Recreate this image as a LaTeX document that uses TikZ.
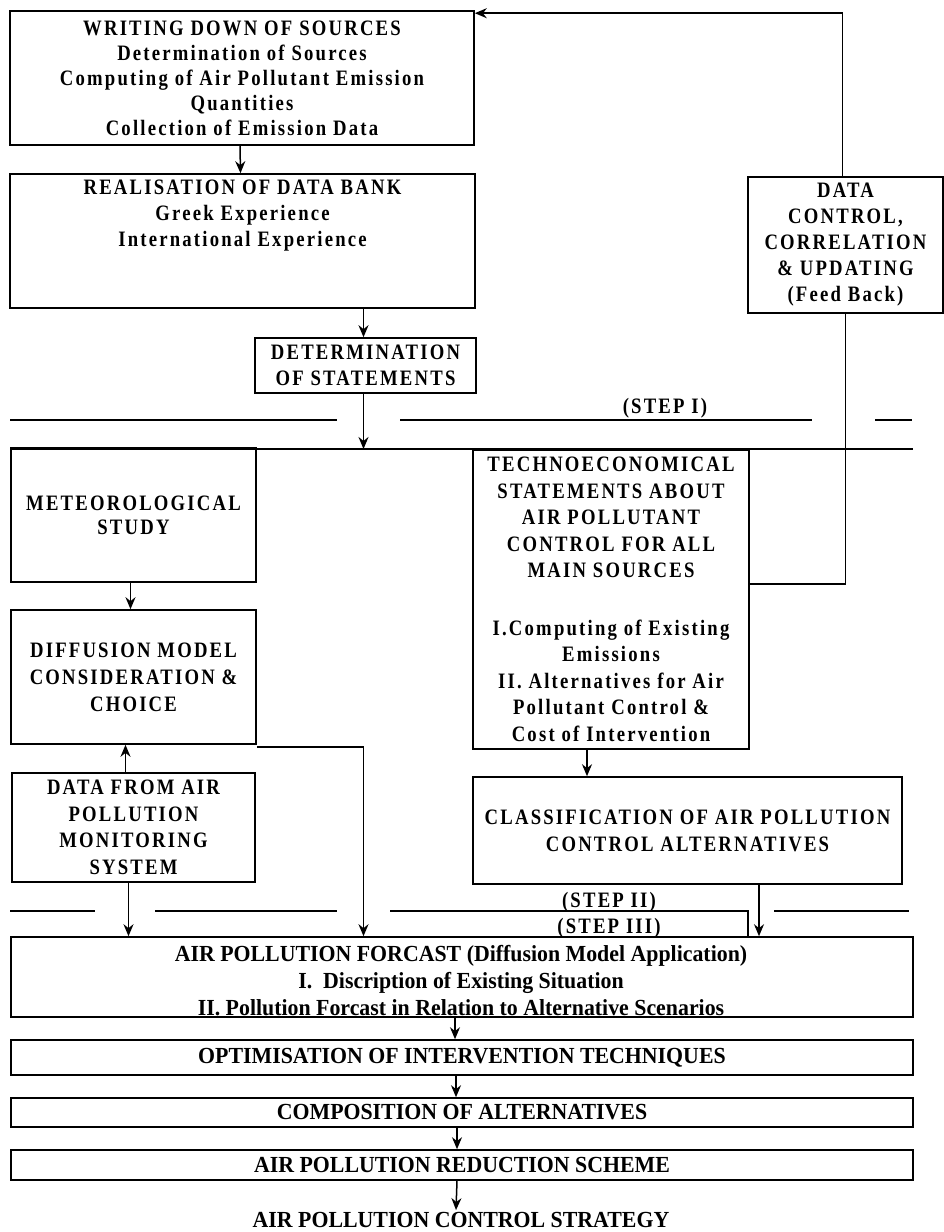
\documentclass[tikz,border=0pt]{standalone}
\usepackage{fontspec}
\setmainfont{Liberation Serif}
\newfontfamily\upfont[LetterSpace=10,FakeStretch=0.85]{Liberation Serif}
\newfontfamily\lowfont[FakeStretch=0.95]{Liberation Serif}
\usetikzlibrary{arrows.meta}
\begin{document}
\begin{tikzpicture}[x=1pt,y=-1pt,
  box/.style={draw,line width=1.6pt,inner sep=0pt,align=center},
  up/.style={font=\upfont\bfseries\fontsize{22}{26}\selectfont},
  low/.style={font=\lowfont\bfseries\fontsize{23}{27}\selectfont},
  txt/.style={inner sep=0pt,align=center},
  arr/.style={line width=1.5pt,-{Stealth[length=12pt,width=10pt]}},
  fb/.style={line width=1.6pt},
  stepline/.style={line width=2pt}]
\useasboundingbox (0,0) rectangle (944,1232);

% boxes
\node[box,up,font=\upfont\bfseries\fontsize{22}{25}\selectfont,minimum width=464pt,minimum height=134pt] (wds) at (242,78)
  {WRITING DOWN OF SOURCES\\Determination of Sources\\Computing of Air Pollutant Emission\\Quantities\\Collection of Emission Data};
\node[box,minimum width=465pt,minimum height=134pt] (rdb) at (242.5,241) {};
\node[txt,up] (rdbt) at (242.5,216) {REALISATION OF DATA BANK\\Greek Experience\\International Experience};
\node[box,up,minimum width=221pt,minimum height=55pt] (dos) at (365.5,365.5) {DETERMINATION\\OF STATEMENTS};
\node[box,up,minimum width=195pt,minimum height=136pt] (dcc) at (845.5,245) {DATA\\CONTROL,\\CORRELATION\\\& UPDATING\\(Feed Back)};
\node[box,up,font=\upfont\bfseries\fontsize{22}{24}\selectfont,minimum width=245pt,minimum height=134pt] (met) at (133.5,515) {METEOROLOGICAL\\STUDY};
\node[box,up,font=\upfont\bfseries\fontsize{22}{27}\selectfont,minimum width=245pt,minimum height=134pt] (dmc) at (133.5,677) {DIFFUSION MODEL\\CONSIDERATION \&\\CHOICE};
\node[box,up,font=\upfont\bfseries\fontsize{22}{26.5}\selectfont,minimum width=243pt,minimum height=109pt] (dfa) at (133.5,827.5) {DATA FROM AIR\\POLLUTION\\MONITORING\\SYSTEM};
\node[box,up,font=\upfont\bfseries\fontsize{22}{26.5}\selectfont,minimum width=276pt,minimum height=299pt] (tec) at (611,599.5)
  {TECHNOECONOMICAL\\STATEMENTS ABOUT\\AIR POLLUTANT\\CONTROL FOR ALL\\MAIN SOURCES\\[31pt]I.Computing of Existing\\Emissions\\II. Alternatives for Air\\Pollutant Control \&\\Cost of Intervention};
\node[box,up,font=\upfont\bfseries\fontsize{22}{27}\selectfont,minimum width=429pt,minimum height=107pt] (cla) at (687.5,830.5) {CLASSIFICATION OF AIR POLLUTION\\CONTROL ALTERNATIVES};
\node[box,minimum width=902pt,minimum height=80pt] (apf) at (462,977) {};
\node[txt,low] (apft) at (461,981) {AIR POLLUTION FORCAST (Diffusion Model Application)\\I.\ \ Discription of Existing Situation\\II. Pollution Forcast in Relation to Alternative Scenarios};
\node[box,low,minimum width=902pt,minimum height=35pt] (oit) at (462,1057.5) {OPTIMISATION OF INTERVENTION TECHNIQUES};
\node[box,low,minimum width=902pt,minimum height=29pt] (coa) at (462,1112.5) {COMPOSITION OF ALTERNATIVES};
\node[box,low,minimum width=902pt,minimum height=30pt] (aprs) at (462,1165) {AIR POLLUTION REDUCTION SCHEME};
\node[txt,low] (fin) at (461,1220) {AIR POLLUTION CONTROL STRATEGY};

% step labels
\node[txt,up] (s1) at (665,408) {(STEP I)};
\node[txt,up] (s2) at (609,902) {(STEP II)};
\node[txt,up] (s3) at (609,928) {(STEP III)};

% step lines
\draw[stepline] (10,419.5) -- (337,419.5);
\draw[stepline] (400,419.5) -- (812,419.5);
\draw[stepline] (875,419.5) -- (912,419.5);
\draw[stepline] (10,449) -- (913,449);
\draw[stepline] (10,911) -- (95,911);
\draw[stepline] (155,911) -- (337,911);
\draw[fb] (390,911) -- (748,911) -- (748,937);
\draw[stepline] (774,911) -- (909,911);

% arrows
\draw[arr] ([xshift=-2pt]wds.south) -- ([xshift=-2pt]rdb.north);
\draw[arr] ([xshift=-2pt]dos.north |- rdb.south) -- ([xshift=-2pt]dos.north);
\coordinate (l1) at (363.5,449);
\draw[arr] ([xshift=-2pt]dos.south) -- (l1);
\draw[arr] ([xshift=-3pt]met.south) -- ([xshift=-3pt]dmc.north);
\draw[arr] ([xshift=-8pt]dfa.north) -- ([xshift=-8pt]dfa.north |- dmc.south);
\draw[arr] ([yshift=-2pt]dmc.south east) -| ([xshift=-2pt]dos.south |- apf.north);
\draw[arr] ([xshift=-5pt]dfa.south) -- ([xshift=-5pt]dfa.south |- apf.north);
\draw[arr] ([xshift=-24pt]tec.south) -- ([xshift=-24pt]tec.south |- cla.north);
\draw[arr] ([xshift=71.5pt]cla.south) -- ([xshift=71.5pt]cla.south |- apf.north);
\draw[arr] ([xshift=-7pt]apf.south) -- ([xshift=-7pt]oit.north);
\draw[arr] ([xshift=-6pt]oit.south) -- ([xshift=-6pt]coa.north);
\draw[arr] ([xshift=-5pt]coa.south) -- ([xshift=-5pt]aprs.north);
\draw[arr] ([xshift=-5pt]aprs.south) -- ([xshift=-5pt,yshift=2pt]fin.north);

% feedback loop
\draw[fb] ([yshift=-135pt]tec.north east) -| (dcc.south);
\draw[arr] ([xshift=-3pt]dcc.north) |- ([yshift=-3pt]wds.north east);
\end{tikzpicture}
\end{document}
